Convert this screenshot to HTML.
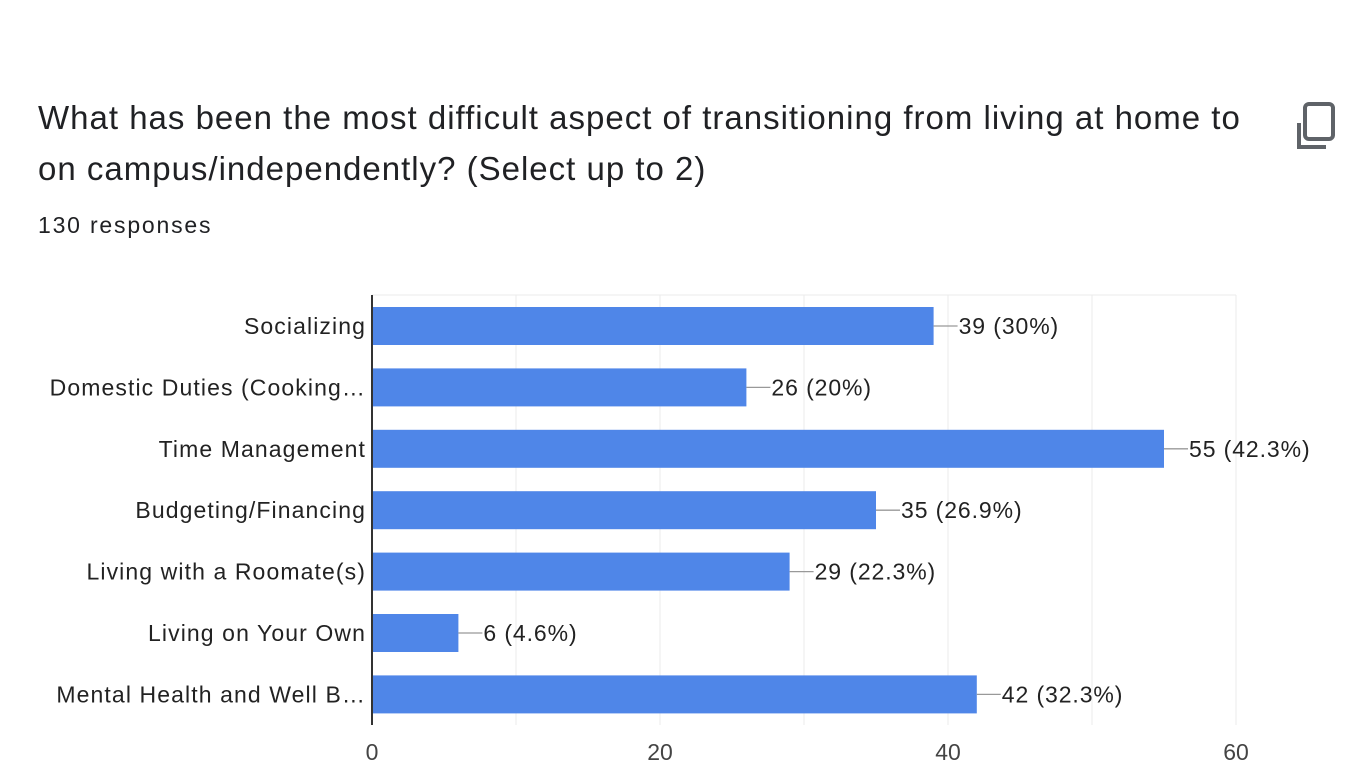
<!DOCTYPE html>
<html><head><meta charset="utf-8"><style>
html,body{margin:0;padding:0;background:#fff;width:1368px;height:784px;overflow:hidden}
body{font-family:"Liberation Sans",sans-serif;position:relative}
#title{position:absolute;left:38px;top:92px;font-size:33px;letter-spacing:1.0px;line-height:51px;color:#202124;width:1225px}
#resp{position:absolute;left:38px;top:212px;font-size:23px;color:#202124;letter-spacing:1.8px}
#chart{position:absolute;left:0;top:0}
</style></head><body>
<div id="title">What has been the most difficult aspect of transitioning from living at home to on campus/independently? (Select up to 2)</div>
<div id="resp">130 responses</div>
<svg id="copy" style="position:absolute;left:1296px;top:100px" width="44" height="50" viewBox="0 0 44 50">
<rect x="9" y="4" width="28" height="35" rx="4" fill="none" stroke="#5f6368" stroke-width="4"/>
<path d="M3 23 V47 H30" fill="none" stroke="#5f6368" stroke-width="4"/>
</svg>
<svg id="chart" width="1368" height="784"></svg>
<script>
const categories=["Socializing","Domestic Duties (Cooking…","Time Management","Budgeting/Financing","Living with a Roomate(s)","Living on Your Own","Mental Health and Well B…"];
const values=[39,26,55,35,29,6,42];
const valueLabels=["39 (30%)","26 (20%)","55 (42.3%)","35 (26.9%)","29 (22.3%)","6 (4.6%)","42 (32.3%)"];
const ticks=[0,20,40,60];
const gridVals=[10,20,30,40,50,60];
const NS="http://www.w3.org/2000/svg";
const svg=document.getElementById('chart');
const x0=372,x1=1236,xmax=60,plotTop=295,plotBottom=725,step=61.4,first=326,bh=38;
const xs=v=>x0+(x1-x0)*v/xmax;
const ys=i=>first+i*step;
function mk(t,a){const e=document.createElementNS(NS,t);for(const k in a)e.setAttribute(k,a[k]);svg.appendChild(e);return e;}
const tl=mk('line',{x1:x0,x2:x1,y1:plotTop,y2:plotTop,stroke:'#ebebeb','stroke-width':1});


gridVals.forEach(v=>{const g=mk('line',{x1:xs(v),x2:xs(v),y1:plotTop,y2:plotBottom,stroke:'#ebebeb','stroke-width':1});

});
ticks.forEach(v=>{const t=mk('text',{x:xs(v),y:760,'text-anchor':'middle','font-size':23,fill:'#444'});t.textContent=v;

});
categories.forEach((c,i)=>{const y=ys(i);
const b=mk('rect',{x:x0,y:y-bh/2,width:xs(values[i])-x0,height:bh,fill:'#4f86e8'});


const l=mk('text',{x:366,y:y+8,'text-anchor':'end','font-size':23,'letter-spacing':1.1,fill:'#222'});l.textContent=c;


const ln=mk('line',{x1:xs(values[i]),x2:xs(values[i])+24,y1:y,y2:y,stroke:'#999','stroke-width':1.3});


const v=mk('text',{x:xs(values[i])+25,y:y+8,'font-size':23,'letter-spacing':0.9,fill:'#222'});v.textContent=valueLabels[i];

});
const ax=mk('line',{x1:x0,x2:x0,y1:plotTop,y2:plotBottom,stroke:'#333','stroke-width':2});


</script>
</body></html>
